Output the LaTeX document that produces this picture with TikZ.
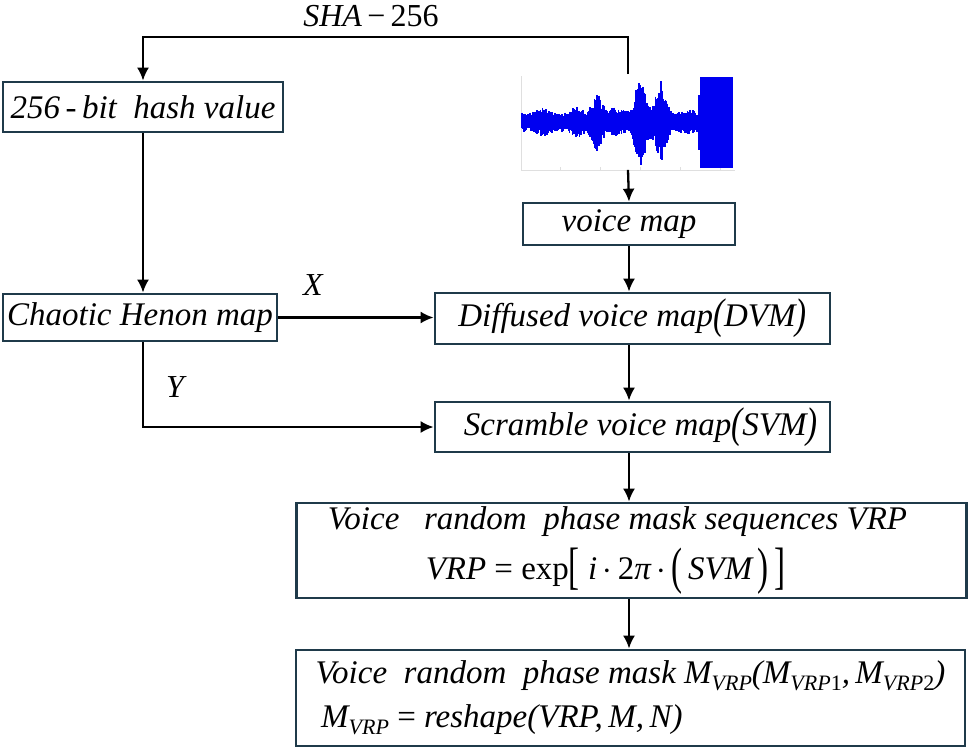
\documentclass[tikz,border=0pt]{standalone}
\usepackage{fontspec}
\setmainfont{Liberation Serif}
\usetikzlibrary{arrows.meta}
\definecolor{boxc}{HTML}{1F3A4A}
\definecolor{wavec}{HTML}{0000F0}
\newcommand\ssub[1]{\raisebox{-0.45ex}{\fontsize{11}{11}\selectfont\itshape #1}}
\newcommand\bigbr[1]{\raisebox{-0.15ex}{\scalebox{1}[1.3]{#1}}}
\newcommand\tallbr[1]{\raisebox{-0.25ex}{\scalebox{1}[1.55]{\textup{#1}}}}
\begin{document}
\begin{tikzpicture}[x=0.5pt,y=-0.5pt,
  box/.style={draw=boxc,line width=1.35pt,fill=white,inner sep=0pt,font=\fontsize{16.5}{20}\selectfont\itshape},
  arr/.style={-{Latex[length=6.5pt,width=6pt]},line width=1.15pt},
  lbl/.style={font=\fontsize{16}{18}\selectfont\itshape,inner sep=0pt}]
\useasboundingbox (0,0) rectangle (970,750);

% boxes
\node[box,minimum width=140pt,minimum height=25pt] (h256) at (143,107) {256\,\textup{-}\,bit\ \ hash value};
\node[box,minimum width=137pt,minimum height=23.5pt] (henon) at (140,317.5) {Chaotic Henon map};
\node[box,minimum width=106pt,minimum height=21pt] (vmap) at (629,224) {voice map};
\node[box,minimum width=197.5pt,minimum height=25.5pt] (dvm) at (632.5,318.5) {Diffused voice map\bigbr{(}DVM\bigbr{)}};
\node[box,minimum width=197.5pt,minimum height=25pt] (svm) at (632.5,427) {\ \ Scramble voice map\bigbr{(}SVM\bigbr{)}};
\node[box,minimum width=335pt,minimum height=47.5pt,align=center] (vrp) at (631.5,550.5)
  {\hspace*{-14pt}Voice\ \ \ random\ \ phase mask sequences VRP\\[5pt]
   \hspace*{-26pt}VRP\ \textup{=}\ \textup{exp}\tallbr{[}\ i\,\textup{$\cdot$}\,\textup{2}π\,\textup{$\cdot$}\,\tallbr{(}\,SVM\,\tallbr{)}\,\tallbr{]}};
\node[box,minimum width=334.5pt,minimum height=48pt,align=left] (mvrp) at (630.5,698)
  {Voice\ \ random\ \ phase mask M\ssub{VRP}(M\ssub{VRP\textup{1}},\,M\ssub{VRP\textup{2}})\\[2pt]
   \,M\ssub{VRP}\ \textup{=}\ reshape(VRP,\,M,\,N)};

% waveform
\node[minimum width=107.5pt,minimum height=47.5pt,inner sep=0pt] (wave) at (628,122) {};
\draw[gray!25,line width=0.4pt] (521,76) -- (521,170) -- (735,170);
\foreach \t in {560,600,640,680,720} {\draw[gray!25,line width=0.4pt] (\t,170) -- (\t,167);}
\pgfmathsetseed{7}
\foreach \i in {0,...,250}{
  \pgfmathsetmacro\xx{522+\i*0.71}
  \pgfmathsetmacro\env{10+5*max(0,1-abs(\xx-543)/10)+8*max(0,1-abs(\xx-577)/9)+20*max(0,1-abs(\xx-597)/10)+34*max(0,1-abs(\xx-640)/9)+30*max(0,1-abs(\xx-662)/10)+8*max(0,1-abs(\xx-650)/22)+5*max(0,1-abs(\xx-615)/15)+3*max(0,1-abs(\xx-690)/12)}
  \pgfmathsetmacro\aa{\env*(0.5+0.5*rnd)}
  \pgfmathsetmacro\bb{\env*(0.5+0.5*rnd)}
  \draw[wavec,line width=0.9pt] (\xx,122-\aa) -- (\xx,122+\bb);
}
\fill[wavec] (700,77) rectangle (733,168);
\fill[wavec] (698,95) rectangle (701,150);

% connectors
\draw[arr] (wave.north) -- ++(0,-37) -| (h256.north);
\draw[arr] (wave.south) -- (vmap.north);
\draw[arr] (vmap.south) -- (vmap.south |- dvm.north);
\draw[arr] (h256.south) -- (h256.south |- henon.north);
\draw[arr] (henon.east) -- (henon.east -| dvm.west);
\draw[arr] (h256.south |- henon.south) |- (svm.west);
\draw[arr] (vmap.south |- dvm.south) -- (vmap.south |- svm.north);
\draw[arr] (vmap.south |- svm.south) -- (vmap.south |- vrp.north);
\draw[arr] (vmap.south |- vrp.south) -- (vmap.south |- mvrp.north);

% labels
\node[lbl] (sha) at (371,16) {SHA\textup{\,−\,256}};
\node[lbl] (xl) at (313,285) {X};
\node[lbl] (yl) at (175,387) {Y};
\end{tikzpicture}
\end{document}
